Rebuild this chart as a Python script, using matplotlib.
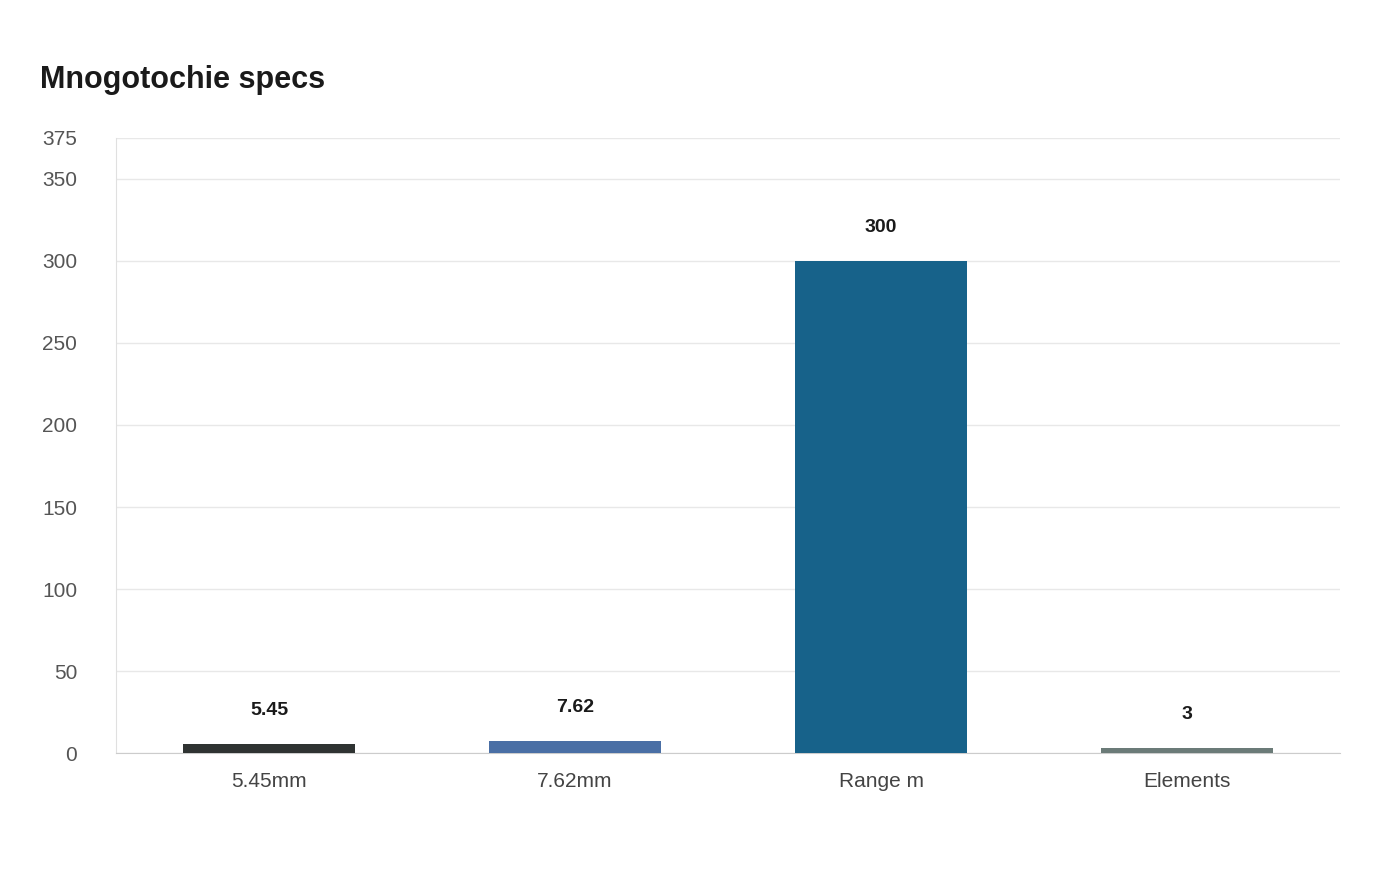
import matplotlib
matplotlib.use("Agg")
import matplotlib.pyplot as plt

categories = ["5.45mm", "7.62mm", "Range m", "Elements"]
values = [5.45, 7.62, 300, 3]
labels = ["5.45", "7.62", "300", "3"]
colors = ["#2f3332", "#4a6fa5", "#17628a", "#6b7b78"]
yticks = [0, 50, 100, 150, 200, 250, 300, 350, 375]

plt.rcParams['font.family'] = ['Liberation Sans', 'DejaVu Sans']
fig = plt.figure(figsize=(14, 8.8), dpi=100)
ax = fig.add_axes([0.0829, 0.1443, 0.8743, 0.6989])
x = range(len(categories))
ax.bar(x, values, width=0.56, color=colors, zorder=3)
for xi, v, l in zip(x, values, labels):
    ax.annotate(l, (xi, v), xytext=(0, 18), textcoords="offset points",
                ha="center", va="bottom", fontsize=14, fontweight="bold", color="#1a1a1a")
ax.set_xlim(-0.5, 3.5)
ax.set_ylim(0, 375)
ax.set_yticks(yticks)
ax.set_xticks(list(x))
ax.set_xticklabels(categories, fontsize=15, color="#444444")
ax.tick_params(axis="y", labelsize=15, labelcolor="#555555", length=0, pad=28)
ax.tick_params(axis="x", length=0, pad=14)
for lab in ax.get_yticklabels():
    lab.set_horizontalalignment("right")
ax.grid(axis="y", color="#e8e8e8", linewidth=1, zorder=0)
for s in ["top", "right"]:
    ax.spines[s].set_visible(False)
ax.spines["left"].set_color("#e0e0e0")
ax.spines["bottom"].set_color("#cccccc")
fig.text(40/1400, 1-80/880, "Mnogotochie specs", fontsize=22, fontweight="bold",
         color="#1a1a1a", va="center", ha="left")
fig.savefig("out.png", dpi=100, facecolor="white")
